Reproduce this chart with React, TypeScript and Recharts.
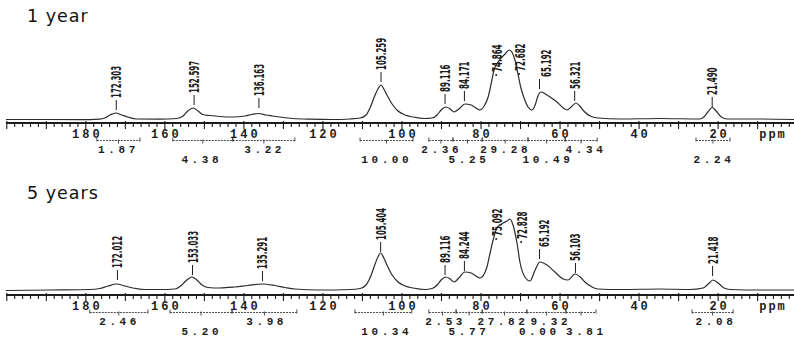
import React from 'react';
import { LineChart, Line, XAxis, YAxis, ReferenceDot, ReferenceLine } from 'recharts';

// ---------- axis ----------
const X_DOMAIN: [number, number] = [0.8, 200.2];
const TOP_Y_DOMAIN: [number, number] = [-3, 120];
const BOTTOM_Y_DOMAIN: [number, number] = [-4, 119];
const AXIS_TICKS: number[] = Array.from({ length: 100 }, (_, i) => 200 - 2 * i);
const TICK_LABELS: number[] = [180, 160, 140, 120, 100, 80, 60, 40, 20];
const AXIS_UNIT = 'ppm';

// ---------- spectra: [ppm, intensity] ----------
const SPECTRUM_1Y: [number, number][] = [
  [200.2, 0.5], [189.1, 0.5], [181.5, 0.3], [176.5, 0.8], [175.2, 2], [173.9, 5], [172.4, 7],
  [170.9, 5], [169.4, 3], [167.1, 1], [161.3, 0.8], [157.0, 1.5], [155.4, 4], [154.2, 9],
  [152.8, 12], [151.6, 9], [150.4, 5.5], [148.6, 4.5], [146.1, 3.5], [142.8, 3], [139.7, 4],
  [138.0, 5.5], [136.3, 6.5], [134.4, 5], [132.7, 4], [130.1, 2.5], [127.6, 1.5], [123.3, 0.8],
  [117.5, 0.5], [113.2, 1], [110.6, 2], [109.1, 5], [108.1, 12], [106.8, 25], [106.1, 31],
  [105.3, 35], [104.6, 31], [103.8, 25], [102.5, 16], [101.0, 9], [99.2, 5], [97.2, 3],
  [94.2, 1.5], [92.4, 2], [91.1, 5], [90.1, 10], [88.9, 13], [87.8, 11], [86.8, 8], [85.6, 11],
  [84.1, 16], [82.5, 15], [81.3, 12], [80.3, 10], [79.2, 14], [78.2, 23], [77.5, 35], [76.7, 50],
  [75.7, 58], [74.9, 62], [73.9, 66], [72.9, 70], [72.2, 68], [71.4, 60], [70.6, 45], [69.9, 32],
  [69.1, 22], [68.1, 13], [67.1, 10], [66.3, 15], [65.6, 24], [64.8, 28], [63.3, 25], [61.8, 21],
  [60.5, 17], [59.2, 12], [58.2, 10], [57.2, 13], [56.0, 17], [55.0, 14], [54.0, 9], [52.4, 4],
  [50.4, 2], [44.8, 1], [34.7, 1.5], [24.6, 1], [23.6, 3], [22.6, 8], [21.5, 12.5], [20.5, 9],
  [19.2, 3], [17.7, 1], [9.4, 1], [0.8, 0.5],
];

const SPECTRUM_5Y: [number, number][] = [
  [200.2, 0.5], [189.1, 1], [179.0, 1.5], [176.5, 2.5], [174.4, 5], [172.2, 7], [170.1, 5],
  [168.1, 3], [165.1, 1.5], [161.3, 1.5], [157.5, 2], [156.0, 5], [154.7, 10], [153.2, 14],
  [151.9, 11], [150.6, 6], [149.1, 3.5], [146.1, 3], [142.3, 4], [139.0, 5.5], [135.4, 7],
  [132.2, 5.5], [129.6, 3.5], [127.1, 2], [120.8, 1], [113.2, 1.5], [110.6, 2.5], [109.1, 6],
  [108.1, 13], [106.8, 27], [106.1, 34], [105.4, 38], [104.6, 33], [103.8, 26], [102.5, 16],
  [101.0, 9], [99.2, 5], [97.2, 3], [94.2, 1.5], [92.4, 2.5], [91.1, 6], [90.1, 11], [88.9, 14],
  [87.8, 12], [86.8, 9], [85.6, 13], [84.1, 19], [82.5, 18], [81.3, 15], [80.3, 13], [79.2, 17],
  [78.5, 24], [77.7, 38], [77.0, 50], [76.0, 63], [75.2, 66], [74.4, 68], [73.4, 70], [72.7, 72],
  [71.9, 66], [70.9, 48], [70.1, 28], [68.9, 14], [67.6, 10], [66.3, 21], [65.1, 29], [63.3, 26],
  [61.3, 19], [59.2, 12], [58.0, 11], [56.2, 17], [54.9, 14], [53.7, 9], [51.9, 4], [50.4, 2],
  [44.8, 1.5], [34.7, 2], [27.1, 1.5], [23.8, 3], [22.5, 7], [21.3, 11], [19.7, 7], [18.5, 3],
  [17.0, 1.5], [9.4, 1], [0.8, 1],
];

// ---------- peak picks ----------
type Pick = { text: string; ppm: number; textPpm: number; h: number };
const PICKS_1Y: Pick[] = [
  { text: '172.303', ppm: 172.3, textPpm: 172.3, h: 10 },
  { text: '152.597', ppm: 152.6, textPpm: 152.6, h: 15 },
  { text: '136.163', ppm: 136.2, textPpm: 136.2, h: 12 },
  { text: '105.259', ppm: 105.3, textPpm: 105.3, h: 38 },
  { text: '89.116', ppm: 89.1, textPpm: 89.1, h: 16 },
  { text: '84.171', ppm: 84.2, textPpm: 84.2, h: 19 },
  { text: '65.192', ppm: 65.2, textPpm: 63.6, h: 31 },
  { text: '56.321', ppm: 56.3, textPpm: 56.3, h: 19 },
  { text: '21.490', ppm: 21.5, textPpm: 21.5, h: 13 },
];
const DOT_PICKS_1Y = [
  { text: '74.864', textPpm: 75.9, h: 48 },
  { text: '72.682', textPpm: 70.1, h: 49 },
];
const PICKS_5Y: Pick[] = [
  { text: '172.012', ppm: 172.0, textPpm: 172.0, h: 11 },
  { text: '153.033', ppm: 153.0, textPpm: 153.0, h: 16 },
  { text: '135.291', ppm: 135.3, textPpm: 135.3, h: 10 },
  { text: '105.404', ppm: 105.4, textPpm: 105.4, h: 39 },
  { text: '89.116', ppm: 89.1, textPpm: 89.1, h: 16 },
  { text: '84.244', ppm: 84.2, textPpm: 84.2, h: 20 },
  { text: '65.192', ppm: 65.2, textPpm: 64.0, h: 32 },
  { text: '56.103', ppm: 56.1, textPpm: 56.1, h: 18 },
  { text: '21.418', ppm: 21.4, textPpm: 21.4, h: 15 },
];
const DOT_PICKS_5Y = [
  { text: '75.092', textPpm: 75.9, h: 55 },
  { text: '72.828', textPpm: 69.6, h: 52 },
];

// ---------- integrals ----------
const REGIONS_1Y: [number, number][] = [
  [177.2, 166.3], [158.0, 142.8], [142.8, 127.1], [110.6, 97.2],
  [93.2, 87.1], [87.1, 79.7], [79.7, 68.1], [68.1, 58.7], [58.7, 50.6], [25.6, 17.0],
];
const VALUES_1Y = [
  { text: '1.87', ppm: 172.2, row: 0 }, { text: '4.38', ppm: 151.1, row: 1 },
  { text: '3.22', ppm: 135.2, row: 0 }, { text: '10.00', ppm: 104.3, row: 1 },
  { text: '2.36', ppm: 90.4, row: 0 }, { text: '5.25', ppm: 83.5, row: 1 },
  { text: '29.28', ppm: 74.2, row: 0 }, { text: '10.49', ppm: 63.5, row: 1 },
  { text: '4.34', ppm: 53.9, row: 0 }, { text: '2.24', ppm: 21.5, row: 1 },
];
const REGIONS_5Y: [number, number][] = [
  [179.0, 164.3], [158.7, 143.0], [143.0, 126.6], [111.9, 97.5],
  [93.2, 86.3], [86.3, 79.7], [79.7, 68.4], [68.4, 58.5], [58.5, 50.9], [26.6, 16.2],
];
const VALUES_5Y = [
  { text: '2.46', ppm: 171.9, row: 0 }, { text: '5.20', ppm: 151.1, row: 1 },
  { text: '3.98', ppm: 134.7, row: 0 }, { text: '10.34', ppm: 104.3, row: 1 },
  { text: '2.53', ppm: 89.4, row: 0 }, { text: '5.77', ppm: 83.5, row: 1 },
  { text: '27.82', ppm: 74.9, row: 0 }, { text: '9.32', ppm: 62.8, row: 0 },
  { text: '0.00', ppm: 65.7, row: 1 }, { text: '3.81', ppm: 53.8, row: 1 },
  { text: '2.08', ppm: 21.0, row: 0 },
];

// ---------- styles ----------
const INK = '#1c1c1c';
const MONO = '"Liberation Mono", "DejaVu Sans Mono", monospace';
const NARROW = '"Liberation Sans Narrow", "DejaVu Sans Condensed", "Liberation Sans", sans-serif';
const ROW_OFFSETS = [29.5, 39.5];

const AxisTick = (props: any) => {
  const { x, y, payload } = props;
  const v = payload.value as number;
  const major = v % 10 === 0;
  return (
    <g>
      <line x1={x} x2={x} y1={y - (major ? 2 : 1)} y2={y + (major ? 6 : 4)} stroke={INK} strokeWidth={1.1} />
      {TICK_LABELS.includes(v) && (
        <text x={x} y={y + 14.5} dx={1.5} textAnchor="middle" fontFamily={MONO} fontWeight="bold" fontSize={12} letterSpacing={3} fill={INK}>
          {v}
        </text>
      )}
    </g>
  );
};

const UnitLabel = (props: any) => {
  const vb = props.viewBox || {};
  return (
    <text x={vb.x + vb.width - 21} y={vb.y + 14.5} textAnchor="middle" fontFamily={MONO} fontWeight="bold" fontSize={12} letterSpacing={2} fill={INK}>
      {AXIS_UNIT}
    </text>
  );
};

const rotText = (text: string, tx: number, ty: number) => (
  <text
    x={tx}
    y={ty}
    transform={`rotate(-90 ${tx} ${ty})`}
    fontFamily={NARROW}
    fontSize={14}
    fontWeight="bold"
    textLength={text.length * 4.6}
    lengthAdjust="spacingAndGlyphs"
    fill={INK}
  >
    {text}
  </text>
);

type SpecProps = {
  spectrum: [number, number][];
  picks: Pick[];
  dotPicks: { text: string; textPpm: number; h: number }[];
  regions: [number, number][];
  values: { text: string; ppm: number; row: number }[];
  yDomain: [number, number];
  height: number;
  axisHeight: number;
};

function Spectrum({ spectrum, picks, dotPicks, regions, values, yDomain, height, axisHeight }: SpecProps) {
  const data = spectrum.map(([ppm, h]) => ({ ppm, h }));
  const yMin = yDomain[0];
  return (
    <LineChart width={794} height={height} data={data} margin={{ top: 0, right: 0, bottom: 0, left: 6 }}>
      <XAxis
        dataKey="ppm"
        type="number"
        domain={X_DOMAIN}
        reversed
        allowDataOverflow
        ticks={AXIS_TICKS}
        interval={0}
        tickSize={0}
        tickMargin={0}
        tickLine={false}
        axisLine={{ stroke: INK, strokeWidth: 1.8 }}
        tick={<AxisTick />}
        height={axisHeight}
        label={UnitLabel}
      />
      <YAxis hide type="number" domain={yDomain} allowDataOverflow />
      <Line dataKey="h" type="monotone" dot={false} stroke="#2b2b2b" strokeWidth={1.2} isAnimationActive={false} />
      {picks.map((p) => (
        <ReferenceDot
          key={'l' + p.text}
          x={p.ppm}
          y={p.h}
          ifOverflow="visible"
          shape={(s: any) => <line x1={s.cx} x2={s.cx} y1={s.cy} y2={s.cy - 10} stroke={INK} strokeWidth={1} />}
        />
      ))}
      {picks.map((p) => (
        <ReferenceDot
          key={'t' + p.text}
          x={p.textPpm}
          y={p.h}
          ifOverflow="visible"
          shape={(s: any) => rotText(p.text, s.cx + 5, s.cy - 12)}
        />
      ))}
      {dotPicks.map((p) => (
        <ReferenceDot
          key={'d' + p.text}
          x={p.textPpm}
          y={p.h}
          ifOverflow="visible"
          shape={(s: any) => (
            <g>
              <circle cx={s.cx - 1} cy={s.cy + 3} r={1} fill={INK} />
              {rotText(p.text, s.cx + 5, s.cy)}
            </g>
          )}
        />
      ))}
      {regions.map(([from, to], i) => (
        <ReferenceLine
          key={'r' + i}
          segment={[{ x: from, y: yMin }, { x: to, y: yMin }]}
          ifOverflow="visible"
          shape={(s: any) => {
            const y = s.y1 + 17.5;
            const mid = (s.x1 + s.x2) / 2;
            return (
              <g stroke="#3a3a3a" strokeWidth={0.9}>
                <line x1={s.x1} x2={s.x2} y1={y} y2={y} strokeDasharray="2 1" />
                <line x1={s.x1} x2={s.x1} y1={y - 3} y2={y + 1} />
                <line x1={s.x2} x2={s.x2} y1={y - 3} y2={y + 1} />
                <line x1={mid} x2={mid} y1={y - 1} y2={y + 3} />
              </g>
            );
          }}
        />
      ))}
      {values.map((v, i) => (
        <ReferenceDot
          key={'v' + i}
          x={v.ppm}
          y={yMin}
          ifOverflow="visible"
          shape={(s: any) => (
            <text x={s.cx} y={s.cy + ROW_OFFSETS[v.row]} dx={1.8} textAnchor="middle" fontFamily={MONO} fontWeight="bold" fontSize={11} letterSpacing={3.6} fill={INK}>
              {v.text}
            </text>
          )}
        />
      ))}
    </LineChart>
  );
}

const titleStyle: React.CSSProperties = {
  position: 'absolute',
  left: 27,
  fontFamily: '"DejaVu Sans", Verdana, sans-serif',
  fontSize: 17.5,
  lineHeight: 1,
  letterSpacing: 1,
  color: '#111',
  whiteSpace: 'nowrap',
};

export default function App() {
  return (
    <div style={{ position: 'absolute', left: 0, top: 0, width: 794, height: 337, background: '#fff', overflow: 'hidden' }}>
      <div style={{ position: 'absolute', left: 0, top: 0 }}>
        <Spectrum
          spectrum={SPECTRUM_1Y}
          picks={PICKS_1Y}
          dotPicks={DOT_PICKS_1Y}
          regions={REGIONS_1Y}
          values={VALUES_1Y}
          yDomain={TOP_Y_DOMAIN}
          height={170}
          axisHeight={47}
        />
      </div>
      <div style={{ position: 'absolute', left: 0, top: 172 }}>
        <Spectrum
          spectrum={SPECTRUM_5Y}
          picks={PICKS_5Y}
          dotPicks={DOT_PICKS_5Y}
          regions={REGIONS_5Y}
          values={VALUES_5Y}
          yDomain={BOTTOM_Y_DOMAIN}
          height={165}
          axisHeight={42}
        />
      </div>
      <div style={{ ...titleStyle, top: 8 }}>1 year</div>
      <div style={{ ...titleStyle, top: 185 }}>5 years</div>
    </div>
  );
}
